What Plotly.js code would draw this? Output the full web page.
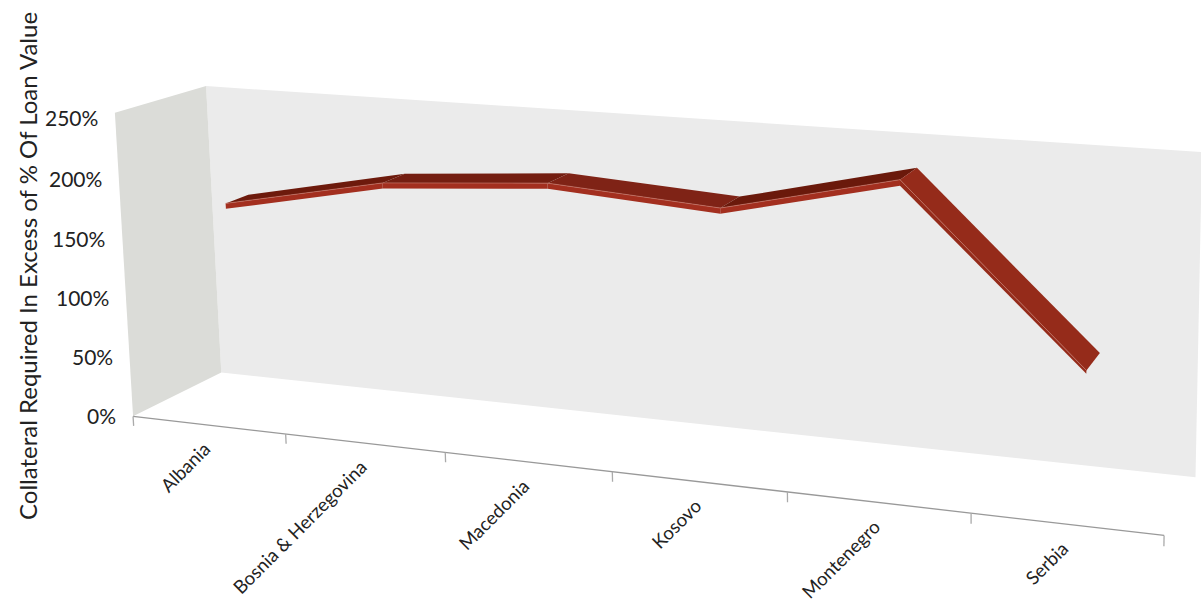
<!DOCTYPE html>
<html><head><meta charset="utf-8"><script src="https://cdn.plot.ly/plotly-3.0.1.min.js"></script>
<style>html,body{margin:0;padding:0;background:#fff}#c{width:1201px;height:602px}</style></head><body><div id="c"></div>
<script>
const W = 1201, H = 602;

// Chart data
const categories = ['Albania', 'Bosnia & Herzegovina', 'Macedonia', 'Kosovo', 'Montenegro', 'Serbia'];
const collateral = [173, 199, 208, 198, 229, 96];
const valueTicks = [0, 50, 100, 150, 200, 250];
const axisTitle = 'Collateral Required In Excess of % Of Loan Value';

// Perspective camera: maps (category position, depth 0..1, percent) to the page plane.
const CAM = [0.87802, 0.10204, -0.02074, 0.13306, 0.04868, -0.02062, -0.30618, 0.41637, -0.13144, 0.06253, -0.02230, 1];
function project(x, depth, value) {
  const a = x / 6, b = depth, c = value / 250;
  const w = CAM[8] * a + CAM[9] * b + CAM[10] * c + CAM[11];
  return [
    1000 * (CAM[0] * a + CAM[1] * b + CAM[2] * c + CAM[3]) / w,
    1000 * (CAM[4] * a + CAM[5] * b + CAM[6] * c + CAM[7]) / w
  ];
}

// The ribbon sits mid-depth; the end face is cut at an angle, so it is shallower there.
const frontDepth = x => 0.30 + 0.032 * x;
const backDepth = x => 0.55 + 0.053 * x;
const faceHeight = i => (i === collateral.length - 1 ? 2.5 : 4.5);

const topColors = ['#6d1a0c', '#741e11', '#7f2316', '#6a190b', '#952b1a'];
const frontColors = ['#a32f1f', '#a32f1f', '#a32f1f', '#a32f1f', '#952b1a'];

function polygon(corners, color) {
  const pts = corners.concat([corners[0]]).map(c => project(...c));
  return { type: 'scatter', mode: 'lines', x: pts.map(p => p[0]), y: pts.map(p => p[1]),
           fill: 'toself', fillcolor: color, line: { width: 0 }, hoverinfo: 'skip' };
}
function polyline(corners, color, width) {
  const pts = corners.map(c => project(...c));
  return { type: 'scatter', mode: 'lines', x: pts.map(p => p[0]), y: pts.map(p => p[1]),
           line: { color: color, width: width }, hoverinfo: 'skip' };
}

const maxValue = valueTicks[valueTicks.length - 1];
const n = categories.length;
const traces = [
  polygon([[0, 1, 0], [n, 1, 0], [n, 1, maxValue], [0, 1, maxValue]], '#ebebeb'),
  polygon([[0, 0, 0], [0, 1, 0], [0, 1, maxValue], [0, 0, maxValue]], '#dbdcd8'),
  polyline([[0, 0, 0], [n, 0, 0]], '#999', 1.3)
];
for (let i = 0; i <= n; i++) traces.push(polyline([[i, 0, 0], [i, 0, -8]], '#aaa', 1.3));

// Upper faces first, then the front faces with their pale seam.
for (let i = 0; i < n - 1; i++) {
  const a = i + 0.5, b = i + 1.5, u = collateral[i], v = collateral[i + 1];
  traces.push(polygon([[a, frontDepth(a), u], [b, frontDepth(b), v], [b, backDepth(b), v], [a, backDepth(a), u]], topColors[i]));
}
for (let i = 0; i < n - 1; i++) {
  const a = i + 0.5, b = i + 1.5, u = collateral[i], v = collateral[i + 1];
  const fa = frontDepth(a), fb = frontDepth(b);
  traces.push(polygon([[a, fa, u], [b, fb, v], [b, fb, v - faceHeight(i + 1)], [a, fa, u - faceHeight(i)]], frontColors[i]));
  traces.push(polyline([[a, fa, u], [b, fb, v]], '#c4776a', 0.7));
}

const font = { family: 'Lato, sans-serif', color: '#222' };
const notes = [];
valueTicks.forEach(v => {
  const p = project(0, 0, v * 0.98);
  notes.push({ x: p[0], y: p[1], xref: 'x', yref: 'y', xanchor: 'right', yanchor: 'middle',
               xshift: -15, yshift: 1, showarrow: false, text: v + '%', font: { ...font, size: 21 } });
});
categories.forEach((c, i) => {
  const p = project(i + 0.5, 0, 0);
  notes.push({ x: p[0], y: p[1], xref: 'x', yref: 'y', xanchor: 'right', yanchor: 'top',
               xshift: 9, yshift: -10, showarrow: false, textangle: -45, text: c, font: { ...font, size: 18.6 } });
});
notes.push({ xref: 'paper', yref: 'paper', x: 27 / W, y: 1 - 266 / H, xanchor: 'center', yanchor: 'middle',
             showarrow: false, textangle: -90, text: axisTitle, font: { ...font, size: 24 } });

Plotly.newPlot('c', traces, {
  width: W, height: H, margin: { l: 0, r: 0, t: 0, b: 0 }, showlegend: false,
  paper_bgcolor: '#fff', plot_bgcolor: '#fff',
  xaxis: { visible: false, range: [0, W] },
  yaxis: { visible: false, range: [H, 0] },
  annotations: notes
}, { staticPlot: true });
</script></body></html>
